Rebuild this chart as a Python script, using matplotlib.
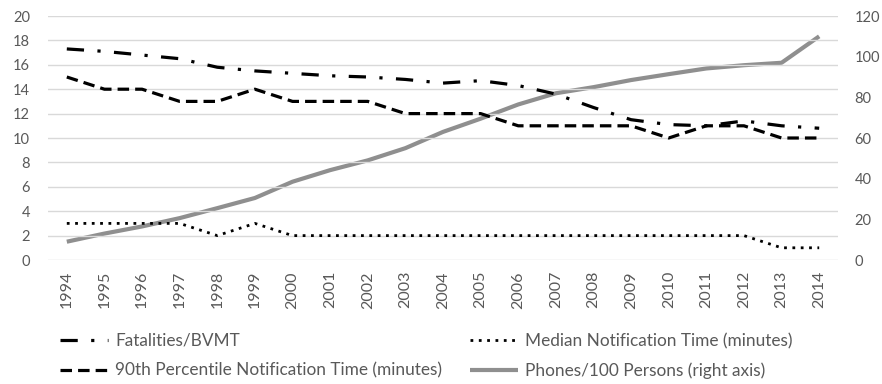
import numpy as np
import matplotlib
matplotlib.use("Agg")
import matplotlib.pyplot as plt

plt.rcParams['font.family'] = ['Lato', 'DejaVu Sans']

years = [str(y) for y in range(1994, 2015)]
fatalities = [17.3, 17.1, 16.8, 16.5, 15.8, 15.5, 15.3, 15.1, 15.0, 14.8, 14.5,
              14.7, 14.3, 13.6, 12.5, 11.5, 11.1, 11.0, 11.4, 11.0, 10.8]
pct90 = [15, 14, 14, 13, 13, 14, 13, 13, 13, 12, 12, 12, 11, 11, 11, 11, 10, 11, 11, 10, 10]
median = [3, 3, 3, 3, 2, 3, 2, 2, 2, 2, 2, 2, 2, 2, 2, 2, 2, 2, 2, 1, 1]
phones = [9.0, 13.0, 16.5, 20.6, 25.5, 30.5, 38.5, 44.2, 49.0, 55.0, 63.0,
          69.5, 76.5, 82.0, 85.0, 88.5, 91.4, 94.2, 95.8, 97.0, 110.0]

grey_txt = '#595959'
x = np.arange(len(years))

fig = plt.figure(figsize=(8.82, 3.84), dpi=100)
ax = fig.add_axes([48/882, 1-260/384, 790/882, 244/384])
ax2 = ax.twinx()

# left-axis lines drawn above the grey phones line
ax.set_zorder(ax2.get_zorder() + 1)
ax.patch.set_visible(False)

l1, = ax.plot(x, fatalities, color='black', lw=2.3, dashes=(5.4, 4.2, 1.0, 4.2),
              dash_capstyle='butt', label='Fatalities/BVMT')
l2, = ax.plot(x, pct90, color='black', lw=2.3, dashes=(3.6, 1.9),
              dash_capstyle='butt', label='90th Percentile Notification Time (minutes)')
l3, = ax.plot(x, median, color='black', lw=2.0, dashes=(1, 2),
              dash_capstyle='butt', label='Median Notification Time (minutes)')
l4, = ax2.plot(x, phones, color='#8f8f8f', lw=3.0, solid_capstyle='butt',
               label='Phones/100 Persons (right axis)')

ax.set_xlim(-0.5, len(years) - 0.5)
ax.set_ylim(0, 20)
ax.set_yticks(range(0, 21, 2))
ax2.set_ylim(0, 120)
ax2.set_yticks(range(0, 121, 20))
ax.grid(axis='y', color='#d9d9d9', lw=1)
ax.set_axisbelow(True)

ax.set_xticks(x)
ax.set_xticklabels(years, rotation=90)
for a in (ax, ax2):
    for s in a.spines.values():
        s.set_visible(False)
    a.tick_params(length=0, colors=grey_txt, labelsize=10.5)
ax.tick_params(axis='y', pad=13)
ax2.tick_params(axis='y', pad=12)
ax.tick_params(axis='x', pad=8, labelsize=11.5)

# two legend columns, placed separately like the original
leg_kw = dict(loc='upper left', frameon=False, borderpad=0, borderaxespad=0,
              fontsize=12.4, labelcolor=grey_txt, handlelength=2.8,
              handletextpad=0.4, labelspacing=0.78)
fig.legend(handles=[l1, l2], bbox_to_anchor=(60/882, 1-333/384), **leg_kw)
fig.legend(handles=[l3, l4], bbox_to_anchor=(470/882, 1-333/384), **leg_kw)

fig.savefig('out.png', dpi=100)
